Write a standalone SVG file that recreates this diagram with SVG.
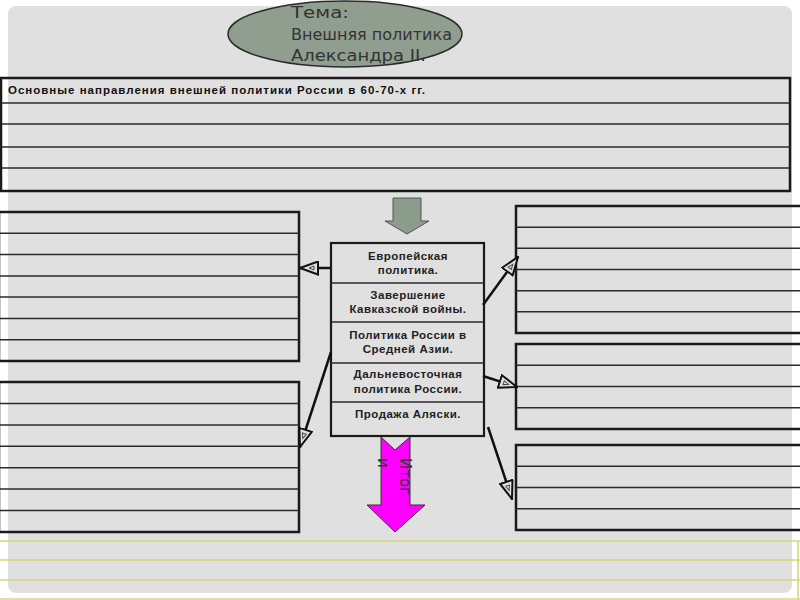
<svg xmlns="http://www.w3.org/2000/svg" width="800" height="600" viewBox="0 0 800 600">
<defs>
<style>
.tbl{fill:none;stroke:#1a1a1a;stroke-width:2.5}
.row{stroke:#2a2a2a;stroke-width:1.5}
.ylw{stroke:#d6d67a;stroke-width:1.6;fill:none}
.ctxt{font-family:"Liberation Sans",Arial,sans-serif;font-size:11.5px;font-weight:bold;fill:#222;text-anchor:middle;letter-spacing:0.5px}
.conn{stroke:#111;stroke-width:2.5;fill:none;marker-end:url(#tri)}
.theme{font-family:"DejaVu Sans","Liberation Sans",sans-serif;font-size:15px;fill:#333}
</style>
<marker id="tri" viewBox="0 0 20 15" refX="19" refY="7.5" markerWidth="20" markerHeight="15" markerUnits="userSpaceOnUse" orient="auto">
<path d="M1,1 L19,7.5 L1,14 Z" fill="#e2e2e2" stroke="#111" stroke-width="2"/>
<path d="M5,5.5 L10,7.5 L5,9.5 Z" fill="none" stroke="#444" stroke-width="1"/>
</marker>
</defs>
<rect x="0" y="0" width="800" height="600" fill="#ffffff"/>
<rect x="8" y="6" width="784" height="587" rx="8" fill="#e0e0e0"/>

<g id="bottom-lines">
<line class="ylw" x1="0" y1="541" x2="800" y2="541"/>
<line class="ylw" x1="0" y1="560" x2="800" y2="560"/>
<line class="ylw" x1="0" y1="580" x2="800" y2="580"/>
<line class="ylw" x1="0" y1="599" x2="800" y2="599"/>
<line class="ylw" x1="798" y1="541" x2="798" y2="600"/>
</g>

<g id="theme">
<ellipse cx="345" cy="34" rx="117" ry="33" fill="#8f9e8f" stroke="#2b2b2b" stroke-width="1.5"/>
<text class="theme" x="291" y="18" textLength="58" lengthAdjust="spacingAndGlyphs">Тема:</text>
<text class="theme" x="291" y="40" textLength="161" lengthAdjust="spacingAndGlyphs">Внешняя политика</text>
<text class="theme" x="291" y="61" textLength="135" lengthAdjust="spacingAndGlyphs">Александра II.</text>
</g>

<g id="header-table">
<rect class="tbl" x="1" y="78" width="789" height="113" fill="#e0e0e0"/>
<line class="row" x1="1" y1="103" x2="790" y2="103"/>
<line class="row" x1="1" y1="124" x2="790" y2="124"/>
<line class="row" x1="1" y1="147" x2="790" y2="147"/>
<line class="row" x1="1" y1="168" x2="790" y2="168"/>
<text x="8" y="94" font-family="Liberation Sans,Arial,sans-serif" font-size="11.5" font-weight="bold" fill="#111" textLength="417" lengthAdjust="spacing">Основные направления внешней политики России в 60-70-х гг.</text>
</g>

<g id="green-arrow">
<path d="M393,198 L421,198 L421,221 L429,221 L407,234 L385,221 L393,221 Z" fill="#8c9c8c" stroke="#555" stroke-width="1"/>
</g>

<g id="left-table-1">
<rect class="tbl" x="-1" y="212" width="300" height="149"/>
<line class="row" x1="0" y1="233.3" x2="299" y2="233.3"/>
<line class="row" x1="0" y1="254.6" x2="299" y2="254.6"/>
<line class="row" x1="0" y1="275.9" x2="299" y2="275.9"/>
<line class="row" x1="0" y1="297.1" x2="299" y2="297.1"/>
<line class="row" x1="0" y1="318.4" x2="299" y2="318.4"/>
<line class="row" x1="0" y1="339.7" x2="299" y2="339.7"/>
</g>

<g id="left-table-2">
<rect class="tbl" x="-1" y="382" width="300" height="150"/>
<line class="row" x1="0" y1="403.4" x2="299" y2="403.4"/>
<line class="row" x1="0" y1="424.9" x2="299" y2="424.9"/>
<line class="row" x1="0" y1="446.3" x2="299" y2="446.3"/>
<line class="row" x1="0" y1="467.7" x2="299" y2="467.7"/>
<line class="row" x1="0" y1="489.1" x2="299" y2="489.1"/>
<line class="row" x1="0" y1="510.6" x2="299" y2="510.6"/>
</g>

<g id="right-table-1">
<rect class="tbl" x="516" y="206" width="290" height="127"/>
<line class="row" x1="516" y1="227.2" x2="800" y2="227.2"/>
<line class="row" x1="516" y1="248.3" x2="800" y2="248.3"/>
<line class="row" x1="516" y1="269.5" x2="800" y2="269.5"/>
<line class="row" x1="516" y1="290.7" x2="800" y2="290.7"/>
<line class="row" x1="516" y1="311.8" x2="800" y2="311.8"/>
</g>

<g id="right-table-2">
<rect class="tbl" x="516" y="344" width="290" height="85"/>
<line class="row" x1="516" y1="365.3" x2="800" y2="365.3"/>
<line class="row" x1="516" y1="386.5" x2="800" y2="386.5"/>
<line class="row" x1="516" y1="407.8" x2="800" y2="407.8"/>
</g>

<g id="right-table-3">
<rect class="tbl" x="516" y="445" width="290" height="85"/>
<line class="row" x1="516" y1="466.3" x2="800" y2="466.3"/>
<line class="row" x1="516" y1="487.5" x2="800" y2="487.5"/>
<line class="row" x1="516" y1="508.8" x2="800" y2="508.8"/>
</g>

<g id="center-box">
<rect x="331" y="243" width="153" height="193" fill="#e0e0e0" stroke="#1a1a1a" stroke-width="2.2"/>
<line class="row" x1="331" y1="283" x2="484" y2="283"/>
<line class="row" x1="331" y1="322" x2="484" y2="322"/>
<line class="row" x1="331" y1="363" x2="484" y2="363"/>
<line class="row" x1="331" y1="402" x2="484" y2="402"/>
<text class="ctxt" x="408" y="260">Европейская</text>
<text class="ctxt" x="408" y="274">политика.</text>
<text class="ctxt" x="408" y="299">Завершение</text>
<text class="ctxt" x="408" y="313">Кавказской войны.</text>
<text class="ctxt" x="408" y="339">Политика России в</text>
<text class="ctxt" x="408" y="353">Средней Азии.</text>
<text class="ctxt" x="408" y="378">Дальневосточная</text>
<text class="ctxt" x="408" y="393">политика России.</text>
<text class="ctxt" x="408" y="418">Продажа Аляски.</text>
</g>

<g id="itogi-arrow">
<path d="M381,437 L395,450 L410,437 L410,505 L425,505 L395,532 L367,505 L381,505 Z" fill="#ff00ff" stroke="#333" stroke-width="1"/>
<text transform="translate(400,458) rotate(90)" font-family="DejaVu Sans,Liberation Sans,sans-serif" font-size="15" fill="#333">Итог<tspan x="0" dy="22">и</tspan></text>
</g>

<g id="connectors">
<line class="conn" x1="331" y1="268" x2="300" y2="268"/>
<line class="conn" x1="331" y1="352" x2="300" y2="447"/>
<line class="conn" x1="483" y1="305" x2="518" y2="257"/>
<line class="conn" x1="483" y1="376" x2="517" y2="387"/>
<line class="conn" x1="488" y1="427" x2="512" y2="499"/>
</g>
</svg>
